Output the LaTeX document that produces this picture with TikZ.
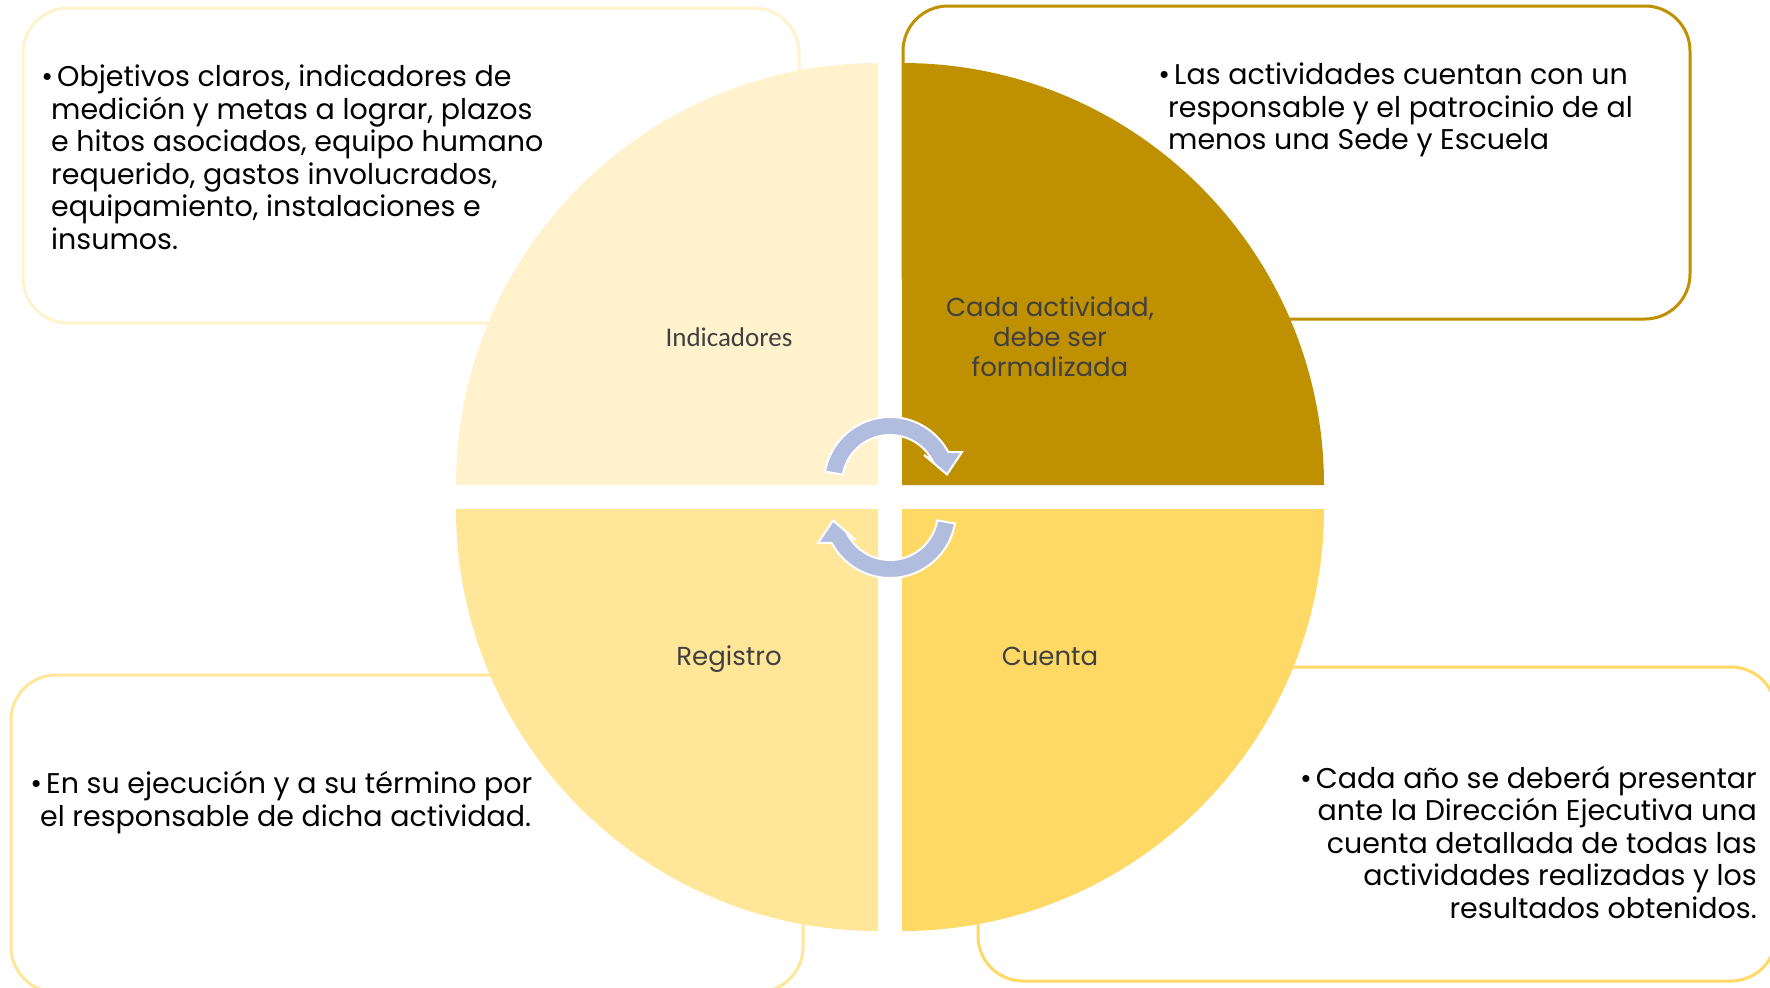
\documentclass[tikz,border=0pt]{standalone}
\usepackage{fontspec}
\setmainfont{Poppins}
\newfontfamily\labelfont{Carlito}
\usetikzlibrary{positioning}

\definecolor{pale}{HTML}{FFF2CC}
\definecolor{gold}{HTML}{BF9000}
\definecolor{sand}{HTML}{FFE699}
\definecolor{sun}{HTML}{FFD966}
\definecolor{loopblue}{HTML}{B0BDDF}
\definecolor{ink}{HTML}{404040}

\tikzset{
  box/.style={line width=3, rounded corners=45},
  bodytext/.style={font=\fontsize{28.5}{32.5}\selectfont, inner sep=0},
  quadtext/.style={font=\fontsize{26}{30}\selectfont, text=ink, align=center, inner sep=0},
  turn/.style={fill=loopblue, draw=white, line width=2},
  turnarrow/.pic={
    \path[turn] plot[domain=190:332, samples=40] ({66*cos(\x)},{-14.5+66*sin(\x)})
      -- (72,-45.5) -- (57,-23) -- (34,-42.5)
      -- plot[domain=332:190, samples=40] ({48*cos(\x)},{-14.5+48*sin(\x)}) -- cycle;
  }
}

\begin{document}
\begin{tikzpicture}[x=1pt, y=-1pt]
  \useasboundingbox (0,0) rectangle (1770,988);

  % boxes behind the circle
  \draw[box, pale] (23,8) rectangle (799,323);
  \draw[box, gold] (903,6) rectangle (1690,319);
  \draw[box, sand] (11,675) rectangle (803,992);
  \draw[box, sun] (978,667) rectangle (1776,981);

  % the four quarters
  \fill[pale] (878,485) -- (456,485) arc[start angle=180, end angle=270, radius=422] -- cycle;
  \fill[gold] (902,485) -- (902,63) arc[start angle=270, end angle=360, radius=422] -- cycle;
  \fill[sand] (878,509) -- (878,931) arc[start angle=90, end angle=180, radius=422] -- cycle;
  \fill[sun] (902,509) -- (1324,509) arc[start angle=0, end angle=90, radius=422] -- cycle;

  % turning arrows
  \pic at (890,497.5) {turnarrow};
  \pic[rotate=180] at (890,497.5) {turnarrow};

  % labels in the quarters
  \node[font=\labelfont\fontsize{27}{30}\selectfont, text=ink, inner sep=0] (indicadores) at (729,337) {Indicadores};
  \node[quadtext] (formal) at (1050,337) {Cada actividad,\\debe ser\\formalizada};
  \node[quadtext, anchor=base] (registro) at (729,665) {Registro};
  \node[quadtext, anchor=base] (cuenta) at (1050,665) {Cuenta};

  % texts in the boxes
  \node[bodytext, align=left, anchor=north west] (objetivos) at (51,65)
    {\hspace*{6pt}\llap{\textbullet\hspace{4pt}}Objetivos claros, indicadores de\\medición y metas a lograr, plazos\\e hitos asociados, equipo humano\\requerido, gastos involucrados,\\equipamiento, instalaciones e\\insumos.};
  \node[bodytext, align=left, anchor=north west] (responsable) at (1168,63)
    {\hspace*{6pt}\llap{\textbullet\hspace{4pt}}Las actividades cuentan con un\\responsable y el patrocinio de al\\menos una Sede y Escuela};
  \node[bodytext, align=left, anchor=north west] (ejecucion) at (40,771)
    {\hspace*{6pt}\llap{\textbullet\hspace{4pt}}En su ejecución y a su término por\\el responsable de dicha actividad.};
  \node[bodytext, align=right, anchor=north east] (resultados) at (1757,766)
    {\llap{\textbullet\hspace{4pt}}Cada año se deberá presentar\\ante la Dirección Ejecutiva una\\cuenta detallada de todas las\\actividades realizadas y los\\resultados obtenidos.};
\end{tikzpicture}
\end{document}
